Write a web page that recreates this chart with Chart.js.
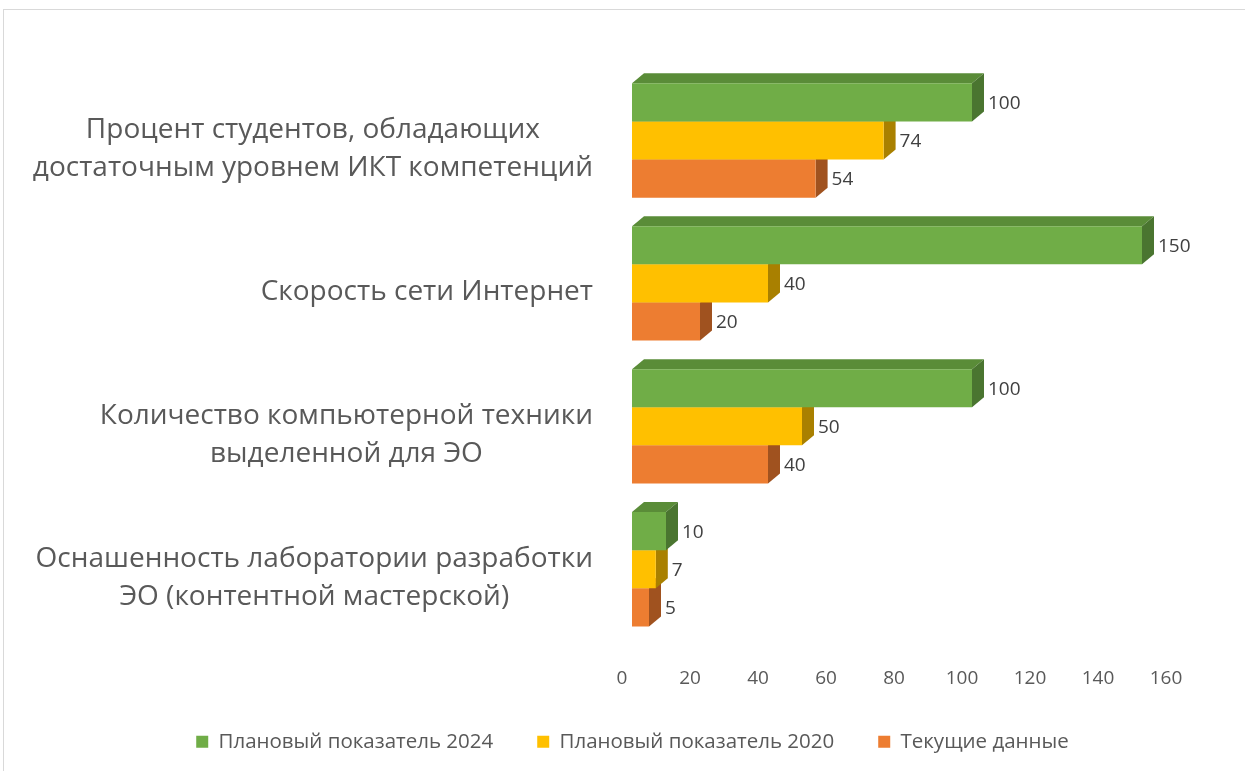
<!DOCTYPE html>
<html>
<head>
<meta charset="utf-8">
<script src="https://cdn.jsdelivr.net/npm/chart.js@4"></script>
<style>
  html, body { margin: 0; padding: 0; background: #fff; overflow: hidden; }
  #frame { position: absolute; left: 3px; top: 9px; width: 1300px; height: 800px; border: 1px solid #d9d9d9; }
  #wrap { position: absolute; left: 0; top: 0; width: 1245px; height: 771px; }
</style>
</head>
<body>
<div id="frame"></div>
<div id="wrap"><canvas id="chart"></canvas></div>
<script>
const categories = [
  ['Процент студентов, обладающих', 'достаточным уровнем ИКТ компетенций'],
  ['Скорость сети Интернет'],
  ['Количество компьютерной техники', 'выделенной для ЭО'],
  ['Оснашенность лаборатории разработки', 'ЭО (контентной мастерской)']
];
const seriesNames = ['Плановый показатель 2024', 'Плановый показатель 2020', 'Текущие данные'];
const plan2024 = [100, 150, 100, 10];
const plan2020 = [74, 40, 50, 7];
const current  = [54, 20, 40, 5];
const xTicks = [0, 20, 40, 60, 80, 100, 120, 140, 160];

// couleurs : face avant, dessus, côté
const colors = [
  { front: '#70AD47', top: '#5A8C38', side: '#4A7530' },
  { front: '#FFC000', top: '#C99700', side: '#A98000' },
  { front: '#ED7D31', top: '#BE6021', side: '#A0521F' }
];
const DX = 12, DY = 10;
const LEGEND_TRIM = 21;
const textColor = '#595959';
const fontFamily = '"Open Sans", "Noto Sans", sans-serif';

// faces 3D dessinées avant chaque dataset
const bars3d = {
  id: 'bars3d',
  beforeDatasetDraw(chart, args) {
    const ctx = chart.ctx;
    const c = colors[args.index];
    args.meta.data.forEach(bar => {
      const p = bar.getProps(['x', 'y', 'base', 'height'], true);
      const top = p.y - p.height / 2, bottom = p.y + p.height / 2;
      ctx.save();
      ctx.fillStyle = c.top;
      ctx.beginPath();
      ctx.moveTo(p.base, top);
      ctx.lineTo(p.base + DX, top - DY);
      ctx.lineTo(p.x + DX, top - DY);
      ctx.lineTo(p.x, top);
      ctx.closePath();
      ctx.fill();
      ctx.fillStyle = c.side;
      ctx.beginPath();
      ctx.moveTo(p.x, top);
      ctx.lineTo(p.x + DX, top - DY);
      ctx.lineTo(p.x + DX, bottom - DY);
      ctx.lineTo(p.x, bottom);
      ctx.closePath();
      ctx.fill();
      ctx.restore();
    });
  },
  afterDatasetsDraw(chart) {
    const ctx = chart.ctx;
    ctx.save();
    ctx.font = '19px ' + fontFamily;
    ctx.fillStyle = '#404040';
    ctx.textAlign = 'left';
    ctx.textBaseline = 'middle';
    chart.data.datasets.forEach((ds, i) => {
      chart.getDatasetMeta(i).data.forEach((bar, j) => {
        const p = bar.getProps(['x', 'y'], true);
        ctx.fillText(ds.data[j], p.x + DX + 4, p.y + 1);
      });
    });
    ctx.restore();
  }
};

// libellés de catégories : bloc aligné à droite, lignes centrées
const catLabels = {
  id: 'catLabels',
  afterDraw(chart) {
    const ctx = chart.ctx;
    const yScale = chart.scales.y;
    const lineH = 38, right = 593;
    ctx.save();
    ctx.font = '28px ' + fontFamily;
    ctx.fillStyle = textColor;
    ctx.textAlign = 'center';
    ctx.textBaseline = 'middle';
    categories.forEach((lines, i) => {
      const w = Math.max(...lines.map(l => ctx.measureText(l).width));
      const cx = right - w / 2;
      const cy = yScale.getPixelForValue(i) + 9;
      lines.forEach((l, k) => {
        ctx.fillText(l, cx, cy + (k - (lines.length - 1) / 2) * lineH);
      });
    });
    ctx.restore();
  }
};

// la légende garde ses écarts horizontaux mais prend moins de hauteur
const legendTrim = {
  id: 'legendTrim',
  afterInit(chart) {
    const lg = chart.legend;
    const fit = lg.fit.bind(lg), draw = lg.draw.bind(lg);
    lg.fit = function () { fit(); this.height -= LEGEND_TRIM; };
    lg.draw = function () {
      this.top -= LEGEND_TRIM;
      draw();
      this.top += LEGEND_TRIM;
    };
  }
};

new Chart(document.getElementById('chart'), {
  type: 'bar',
  data: {
    labels: categories,
    datasets: [
      { label: seriesNames[0], data: plan2024, backgroundColor: colors[0].front },
      { label: seriesNames[1], data: plan2020, backgroundColor: colors[1].front },
      { label: seriesNames[2], data: current,  backgroundColor: colors[2].front }
    ]
  },
  options: {
    indexAxis: 'y',
    responsive: true,
    maintainAspectRatio: false,
    animation: false,
    datasets: { bar: { categoryPercentage: 0.8, barPercentage: 1.0 } },
    layout: { padding: { left: 20, right: 0, top: 69, bottom: 9 } },
    scales: {
      x: {
        min: 0, max: 160,
        afterBuildTicks: s => { s.ticks = xTicks.map(v => ({ value: v })); },
        grid: { display: false },
        border: { display: false },
        ticks: { color: textColor, font: { size: 19, family: fontFamily }, padding: 18.5, labelOffset: -10 }
      },
      y: {
        grid: { display: false },
        border: { display: false },
        ticks: { display: false },
        afterFit: s => { s.width = 612; }
      },
      y2: {
        position: 'right',
        grid: { display: false },
        border: { display: false },
        ticks: { display: false },
        afterFit: s => { s.width = 69; }
      }
    },
    plugins: {
      legend: {
        position: 'bottom',
        labels: {
          color: textColor,
          font: { size: 20.5, family: fontFamily },
          boxWidth: 12, boxHeight: 12,
          padding: 44
        }
      },
      tooltip: { enabled: false }
    }
  },
  plugins: [bars3d, catLabels, legendTrim]
});
</script>
</body>
</html>
